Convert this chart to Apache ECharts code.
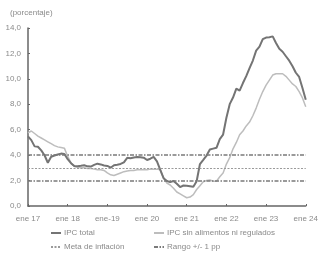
<!DOCTYPE html>
<html>
<head>
<meta charset="utf-8">
<script src="https://cdn.jsdelivr.net/npm/echarts@6/dist/echarts.min.js"></script>
<style>html,body{margin:0;padding:0;background:#fff}#c{width:321px;height:253px}</style>
</head>
<body>
<div id="c"></div>
<script>
var categories = [
 'ene 17','feb 17','mar 17','abr 17','may 17','jun 17','jul 17','ago 17','sep 17','oct 17','nov 17','dic 17',
 'ene 18','feb 18','mar 18','abr 18','may 18','jun 18','jul 18','ago 18','sep 18','oct 18','nov 18','dic 18',
 'ene 19','feb 19','mar 19','abr 19','may 19','jun 19','jul 19','ago 19','sep 19','oct 19','nov 19','dic 19',
 'ene 20','feb 20','mar 20','abr 20','may 20','jun 20','jul 20','ago 20','sep 20','oct 20','nov 20','dic 20',
 'ene 21','feb 21','mar 21','abr 21','may 21','jun 21','jul 21','ago 21','sep 21','oct 21','nov 21','dic 21',
 'ene 22','feb 22','mar 22','abr 22','may 22','jun 22','jul 22','ago 22','sep 22','oct 22','nov 22','dic 22',
 'ene 23','feb 23','mar 23','abr 23','may 23','jun 23','jul 23','ago 23','sep 23','oct 23','nov 23','dic 23',
 'ene 24'
];
var tickLabels = ['ene 17','ene 18','ene-19','ene 20','ene 21','ene 22','ene 23','ene 24'];
var ipcTotal = [
 5.47,5.18,4.69,4.66,4.37,3.99,3.40,3.87,3.97,4.05,4.12,4.09,
 3.68,3.37,3.14,3.13,3.16,3.20,3.12,3.10,3.23,3.33,3.27,3.18,
 3.15,3.01,3.21,3.25,3.31,3.43,3.79,3.75,3.82,3.86,3.84,3.80,
 3.62,3.72,3.86,3.51,2.85,2.19,1.97,1.88,1.97,1.75,1.49,1.61,
 1.60,1.56,1.51,1.95,3.30,3.63,3.97,4.44,4.51,4.58,5.26,5.62,
 6.94,8.01,8.53,9.23,9.07,9.67,10.21,10.84,11.44,12.22,12.53,13.12,
 13.25,13.28,13.34,12.82,12.36,12.13,11.78,11.43,10.99,10.48,10.15,9.28,
 8.35
];
var ipcCore = [
 5.75,5.90,5.70,5.50,5.35,5.20,5.05,4.90,4.75,4.65,4.60,4.55,
 3.90,3.40,3.10,3.05,3.00,3.00,2.95,2.95,2.90,2.85,2.85,2.80,
 2.60,2.45,2.40,2.50,2.60,2.70,2.75,2.80,2.80,2.85,2.85,2.85,
 2.85,2.90,2.90,2.90,2.85,2.20,1.80,1.65,1.40,1.10,0.95,0.80,
 0.65,0.70,0.90,1.30,1.60,1.90,2.00,2.05,1.95,1.95,2.30,2.60,
 3.30,3.80,4.50,5.00,5.60,5.90,6.30,6.60,7.10,7.70,8.40,9.00,
 9.50,9.90,10.30,10.40,10.40,10.40,10.20,9.90,9.60,9.40,9.00,8.50,
 7.80
];
var metaValue = 3;
var rangeValues = [2, 4];
var yTicks = [0, 14, 2];

var FONT = 'Liberation Sans';
var TXT = '#8a8a8a';
var chart = echarts.init(document.getElementById('c'), null, {renderer: 'canvas'});

function legendAt(name, left, top) {
  return {
    data: [name], left: left, top: top, itemWidth: 10, itemHeight: 6, itemGap: 3,
    itemStyle: {opacity: 0},
    textStyle: {fontFamily: FONT, fontSize: 8, color: TXT, padding: [0,0,0,-2]},
    padding: 0
  };
}

chart.setOption({
  animation: false,
  textStyle: {fontFamily: FONT},
  title: {text: '(porcentaje)', left: 5, top: 4,
    textStyle: {fontFamily: FONT, fontSize: 8, color: TXT, fontWeight: 'normal'}},
  grid: {left: 28, right: 10, top: 28, bottom: 47, containLabel: false},
  legend: [
    legendAt('IPC total', 50, 229),
    legendAt('IPC sin alimentos ni regulados', 153, 229),
    legendAt('Meta de inflación', 50, 243),
    legendAt('Rango +/- 1 pp', 153, 243)
  ],
  xAxis: {
    type: 'category', data: categories, boundaryGap: false,
    axisLine: {lineStyle: {color: '#666', width: 1.5}},
    axisTick: {inside: true, length: 2, interval: 11, lineStyle: {color: '#666'}},
    axisLabel: {interval: 11, margin: 9, fontFamily: FONT, fontSize: 8, color: TXT,
      formatter: function (v, i) { return tickLabels[Math.round(i / 12)]; }}
  },
  yAxis: {
    type: 'value', min: yTicks[0], max: yTicks[1], interval: yTicks[2],
    splitLine: {show: false},
    axisLine: {show: true, lineStyle: {color: '#666', width: 1.5}},
    axisTick: {show: true, inside: true, length: 2, lineStyle: {color: '#666'}},
    axisLabel: {margin: 7, fontFamily: FONT, fontSize: 8, color: TXT,
      formatter: function (v) { return v.toFixed(1).replace('.', ','); }}
  },
  series: [
    {name: 'Meta de inflación', type: 'line', data: [], symbol: 'none',
      lineStyle: {color: '#9a9a9a', width: 1.2, type: [2, 1.5]}, itemStyle: {color: '#9a9a9a'},
      markLine: {symbol: 'none', silent: true, label: {show: false},
        lineStyle: {color: '#9a9a9a', width: 1.2, type: [2, 1.5]},
        data: [{yAxis: metaValue}]}},
    {name: 'Rango +/- 1 pp', type: 'line', data: [], symbol: 'none',
      lineStyle: {color: '#7a7a7a', width: 1.5, type: [4, 1.5, 1.5, 1.5]}, itemStyle: {color: '#7a7a7a'},
      markLine: {symbol: 'none', silent: true, label: {show: false},
        lineStyle: {color: '#7a7a7a', width: 1.5, type: [4, 1.5, 1.5, 1.5]},
        data: rangeValues.map(function (v) { return {yAxis: v}; })}},
    {name: 'IPC sin alimentos ni regulados', type: 'line', data: ipcCore, symbol: 'none',
      lineStyle: {color: '#bdbdbd', width: 1.5}, itemStyle: {color: '#bdbdbd'}},
    {name: 'IPC total', type: 'line', data: ipcTotal, symbol: 'none',
      lineStyle: {color: '#747474', width: 2}, itemStyle: {color: '#747474'}}
  ]
});
</script>
</body>
</html>
